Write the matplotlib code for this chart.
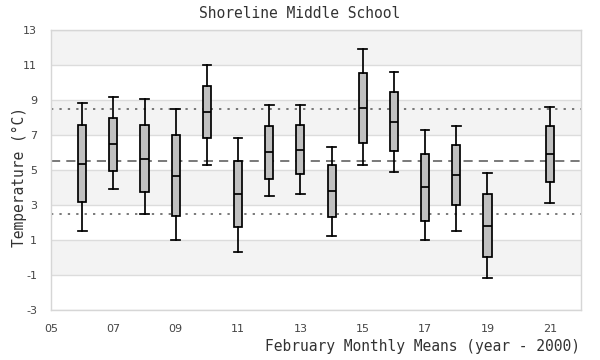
import matplotlib
matplotlib.use("Agg")
import matplotlib.pyplot as plt

years = [6, 7, 8, 9, 10, 11, 12, 13, 14, 15, 16, 17, 18, 19, 21]
whislo = [1.50, 3.90, 2.47, 0.98, 5.27, 0.30, 3.50, 3.61, 1.21, 5.27, 4.87, 0.98, 1.50, -1.19, 3.10]
q1 = [3.15, 4.92, 3.72, 2.35, 6.81, 1.72, 4.47, 4.75, 2.30, 6.52, 6.07, 2.07, 2.98, 0.01, 4.30]
med = [5.32, 6.47, 5.63, 4.64, 8.31, 3.61, 6.01, 6.14, 3.78, 8.52, 7.72, 4.01, 4.70, 1.78, 5.90]
q3 = [7.55, 7.95, 7.55, 6.98, 9.78, 5.50, 7.50, 7.55, 5.27, 10.52, 9.44, 5.90, 6.41, 3.61, 7.50]
whishi = [8.81, 9.19, 9.08, 8.47, 10.98, 6.81, 8.70, 8.70, 6.30, 11.90, 10.58, 7.27, 7.50, 4.81, 8.58]

mean_line = 5.5
upper_line = 8.5
lower_line = 2.5

xticks = [5, 7, 9, 11, 13, 15, 17, 19, 21]
xticklabels = ["05", "07", "09", "11", "13", "15", "17", "19", "21"]
yticks = [-3, -1, 1, 3, 5, 7, 9, 11, 13]

fig = plt.figure(figsize=(6, 3.6), dpi=100)
ax = fig.add_axes([51/600, 1-310/360, 530/600, 280/360])
ax.set_xlim(5, 22)
ax.set_ylim(-3, 13)

# alternating bands
for i in range(len(yticks) - 1):
    lo, hi = yticks[i], yticks[i + 1]
    if i % 2 == 1:
        ax.axhspan(lo, hi, color="#f3f3f3", zorder=0, lw=0)
for y in yticks:
    ax.axhline(y, color="#dcdcdc", lw=1, zorder=0.5)

ax.axhline(mean_line, color="#555555", lw=1.1, ls=(0, (6, 4)), zorder=1)
ax.axhline(upper_line, color="#555555", lw=1.1, ls=(0, (1.5, 4)), zorder=1)
ax.axhline(lower_line, color="#555555", lw=1.1, ls=(0, (1.5, 4)), zorder=1)

stats = []
for i in range(len(years)):
    stats.append(dict(whislo=whislo[i], q1=q1[i], med=med[i], q3=q3[i],
                      whishi=whishi[i], fliers=[]))
ax.bxp(stats, positions=years, widths=0.26, patch_artist=True, showfliers=False,
       manage_ticks=False,
       boxprops=dict(facecolor="#c0c0c0", edgecolor="black", linewidth=1.25),
       medianprops=dict(color="black", linewidth=1.25),
       whiskerprops=dict(color="black", linewidth=1.25),
       capprops=dict(color="black", linewidth=1.25),
       capwidths=0.28, zorder=3)

for s in ax.spines.values():
    s.set_color("#d6d6d6")
    s.set_linewidth(1)

ax.set_xticks(xticks)
ax.set_xticklabels(xticklabels)
ax.set_yticks(yticks)
ax.set_yticklabels([str(v) for v in yticks])
ax.tick_params(length=0, pad=10, labelsize=8, colors="#444444")

mono = "DejaVu Sans Mono"
fig.text(0.5, 1 - 14/360, "Shoreline Middle School", ha="center", va="center",
         family=mono, fontsize=10.5, color="#333333")
fig.text(580/600, 1 - 347/360, "February Monthly Means (year - 2000)", ha="right",
         va="center", family=mono, fontsize=10.5, color="#333333")
fig.text(19/600, 1 - 177/360, "Temperature (°C)", ha="center", va="center",
         rotation=90, family=mono, fontsize=10.5, color="#333333")

fig.savefig("out.png", dpi=100)
